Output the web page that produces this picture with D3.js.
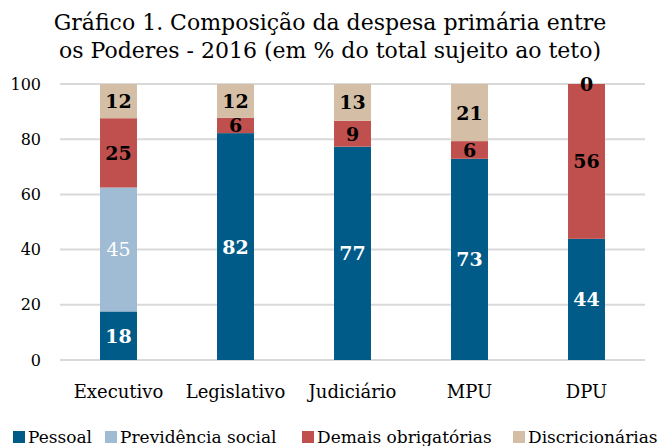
<!DOCTYPE html>
<html>
<head>
<meta charset="utf-8">
<script src="https://cdn.jsdelivr.net/npm/d3@7"></script>
<style>
  body { margin: 0; background: #fff; }
  text { font-family: "DejaVu Serif", serif; }
</style>
</head>
<body>
<svg id="chart" width="662" height="446"></svg>
<script>
// data
const categories = ['Executivo', 'Legislativo', 'Judiciário', 'MPU', 'DPU'];
const seriesNames = ['Pessoal', 'Previdência social', 'Demais obrigatórias', 'Discricionárias'];
const pessoal = [17.6, 82.2, 77.3, 72.9, 43.9];
const previdencia = [44.9, 0, 0, 0, 0];
const demais = [25.1, 5.6, 9.4, 6.4, 56.1];
const discricionarias = [12.4, 12.2, 13.3, 20.7, 0];
const yTicks = [0, 20, 40, 60, 80, 100];
const colors = ['#005B89', '#A0BBD4', '#C0504D', '#D4BFA6'];
const labelColors = ['#fff', '#fff', '#000', '#000'];
const labelWeights = ['bold', 'normal', 'bold', 'bold'];

const svg = d3.select('#chart');
const margin = { top: 84, right: 17, bottom: 86, left: 60 };
const width = 662, height = 446;

const rows = categories.map((c, i) => ({
  cat: c,
  'Pessoal': pessoal[i],
  'Previdência social': previdencia[i],
  'Demais obrigatórias': demais[i],
  'Discricionárias': discricionarias[i]
}));
const stacked = d3.stack().keys(seriesNames)(rows);

const x = d3.scaleBand()
  .domain(categories)
  .range([margin.left, width - margin.right])
  .paddingInner(0.684)
  .paddingOuter(0.342);

const y = d3.scaleLinear()
  .domain([0, 100])
  .range([height - margin.bottom, margin.top]);

// title
svg.append('text')
  .attr('x', 330).attr('y', 30)
  .attr('text-anchor', 'middle')
  .attr('font-family', '"Liberation Serif", serif')
  .attr('font-size', 22)
  .text('Gráfico 1. Composição da despesa primária entre');
svg.append('text')
  .attr('x', 330).attr('y', 58)
  .attr('text-anchor', 'middle')
  .attr('font-family', '"Liberation Serif", serif')
  .attr('font-size', 22)
  .text('os Poderes - 2016 (em % do total sujeito ao teto)');

// gridlines
svg.append('g')
  .selectAll('line')
  .data(yTicks)
  .join('line')
  .attr('x1', margin.left)
  .attr('x2', width - margin.right)
  .attr('y1', d => y(d))
  .attr('y2', d => y(d))
  .attr('stroke', '#d9d9d9')
  .attr('stroke-width', 2);

// y axis
const yAxis = svg.append('g')
  .attr('transform', `translate(${margin.left - 16}, 0)`)
  .call(d3.axisLeft(y).tickValues(yTicks).tickSize(0));
yAxis.select('.domain').remove();
yAxis.selectAll('text')
  .attr('font-family', '"DejaVu Serif", serif')
  .attr('font-size', 16)
  .attr('fill', '#000');

// bars
const layers = svg.append('g')
  .selectAll('g')
  .data(stacked)
  .join('g')
  .attr('fill', (d, i) => colors[i]);

layers.selectAll('rect')
  .data(d => d)
  .join('rect')
  .attr('x', d => x(d.data.cat))
  .attr('width', x.bandwidth())
  .attr('y', d => y(d[1]))
  .attr('height', d => y(d[0]) - y(d[1]));

// labels (zero previdência hidden, DPU discricionárias 0 shown)
stacked.forEach((layer, si) => {
  svg.append('g')
    .selectAll('text')
    .data(layer.filter(d => (d[1] - d[0]) > 0 || si === 3))
    .join('text')
    .attr('x', d => x(d.data.cat) + x.bandwidth() / 2)
    .attr('y', d => y((d[0] + d[1]) / 2) + 7)
    .attr('text-anchor', 'middle')
    .attr('font-size', 19)
    .attr('font-weight', labelWeights[si])
    .attr('fill', labelColors[si])
    .text(d => Math.round(d[1] - d[0]));
});

// x axis
const xAxis = svg.append('g')
  .attr('transform', `translate(0, ${height - margin.bottom + 22})`)
  .call(d3.axisBottom(x).tickSize(0));
xAxis.select('.domain').remove();
xAxis.selectAll('text')
  .attr('font-family', '"DejaVu Serif", serif')
  .attr('font-size', 18)
  .attr('fill', '#000');

// legend
const legendX = [13, 105, 302, 513];
const legend = svg.append('g')
  .selectAll('g')
  .data(seriesNames)
  .join('g')
  .attr('transform', (d, i) => `translate(${legendX[i]}, 431)`);
legend.append('rect')
  .attr('width', 12).attr('height', 12)
  .attr('fill', (d, i) => colors[i]);
legend.append('text')
  .attr('x', 15).attr('y', 12)
  .attr('font-size', 17)
  .text(d => d);
</script>
</body>
</html>
